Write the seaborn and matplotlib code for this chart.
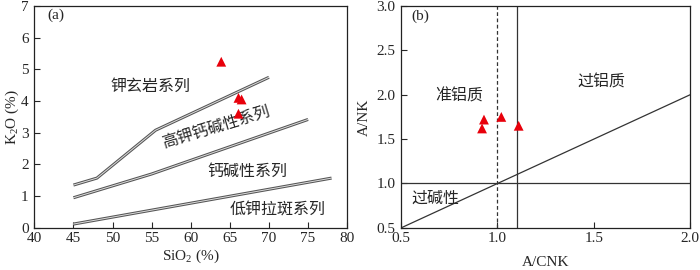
import matplotlib
matplotlib.use('Agg')
import matplotlib.pyplot as plt
import seaborn as sns

# samples
sio2 = [63.9, 66.1, 66.5, 66.1]
k2o = [5.24, 4.1, 4.05, 3.6]
acnk = [0.93, 0.92, 1.02, 1.11]
ank = [1.72, 1.62, 1.75, 1.65]

# series boundaries (Peccerillo & Taylor)
shosh_x = [45, 48, 55.5, 70]
shosh_y = [1.35, 1.57, 3.08, 4.75]
highk_x = [45, 55, 75]
highk_y = [0.95, 1.7, 3.42]
lowk_x = [45, 78]
lowk_y = [0.12, 1.57]

# A/NK - A/CNK reference lines
diag = [0.5, 2.0]
acnk_meta = 1.0
acnk_per = 1.1
ank_alk = 1.0

sns.set_style('ticks')
plt.rcParams['font.family'] = ['Liberation Serif', 'Noto Sans CJK SC']
plt.rcParams['mathtext.fontset'] = 'custom'
plt.rcParams['mathtext.rm'] = 'Liberation Serif'
plt.rcParams['mathtext.it'] = 'Liberation Serif:italic'
cjk = ['Noto Sans CJK SC', 'DejaVu Sans']

fig = plt.figure(figsize=(7, 2.7), dpi=100)
ax1 = fig.add_axes([0.049, 0.156, 0.447, 0.822])
ax2 = fig.add_axes([0.573, 0.156, 0.413, 0.822])

# (a) SiO2 - K2O
for xs, ys in [(shosh_x, shosh_y), (highk_x, highk_y), (lowk_x, lowk_y)]:
    ax1.plot(xs, ys, color='#555555', lw=2.2, solid_capstyle='butt')
    ax1.plot(xs, ys, color='#dddddd', lw=0.7)
sns.scatterplot(x=sio2, y=k2o, marker='^', color='#e8000b', s=50,
                edgecolor='none', ax=ax1, zorder=5)
ax1.set_xlim(40, 80)
ax1.set_ylim(0, 7)
ax1.set_xticks(range(40, 81, 5))
ax1.set_yticks(range(0, 8))
ax1.set_xlabel(r'SiO$_\mathrm{2}$ (%)', fontsize=11, labelpad=2)
ax1.set_ylabel(r'K$_\mathrm{2}$O (%)', fontsize=11, labelpad=0)
ax1.text(41.7, 6.7, '(a)', fontsize=11, va='center')
ax1.text(54.9, 4.45, '钾玄岩系列', family=cjk, fontsize=11.5, ha='center', va='center')
ax1.text(63.2, 3.19, '高钾钙碱性系列', family=cjk, fontsize=11.5, ha='center', va='center', rotation=17)
ax1.text(67.3, 1.77, '钙碱性系列', family=cjk, fontsize=11.5, ha='center', va='center')
ax1.text(71.1, 0.57, '低钾拉斑系列', family=cjk, fontsize=11.5, ha='center', va='center')

# (b) A/CNK - A/NK
ax2.plot(diag, diag, color='#333333', lw=0.9)
ax2.axhline(ank_alk, color='#333333', lw=0.9)
ax2.axvline(acnk_meta, color='#333333', lw=0.9, ls=(0, (3, 2)))
ax2.axvline(acnk_per, color='#333333', lw=0.9)
sns.scatterplot(x=acnk, y=ank, marker='^', color='#e8000b', s=50,
                edgecolor='none', ax=ax2, zorder=5)
ax2.set_xlim(0.5, 2.0)
ax2.set_ylim(0.5, 3.0)
ax2.set_xticks([0.5, 1.0, 1.5, 2.0])
ax2.set_yticks([0.5, 1.0, 1.5, 2.0, 2.5, 3.0])
ax2.set_xticklabels(['0.5', '1.0', '1.5', '2.0'])
ax2.set_yticklabels(['0.5', '1.0', '1.5', '2.0', '2.5', '3.0'])
ax2.set_xlabel('A/CNK', fontsize=11, labelpad=8)
ax2.set_ylabel('A/NK', fontsize=11, labelpad=4)
ax2.text(0.6, 2.88, '(b)', fontsize=11, ha='center', va='center')
ax2.text(0.80, 1.98, '准铝质', family=cjk, fontsize=11.5, ha='center', va='center')
ax2.text(1.54, 2.14, '过铝质', family=cjk, fontsize=11.5, ha='center', va='center')
ax2.text(0.68, 0.83, '过碱性', family=cjk, fontsize=11.5, ha='center', va='center')

for ax in (ax1, ax2):
    ax.tick_params(direction='in', length=4, width=0.8, labelsize=11, pad=3)
    ax.tick_params(axis='y', pad=4)
    for sp in ax.spines.values():
        sp.set_visible(True)
        sp.set_linewidth(0.9)
        sp.set_color('#222222')

fig.savefig('out.png', dpi=100)
